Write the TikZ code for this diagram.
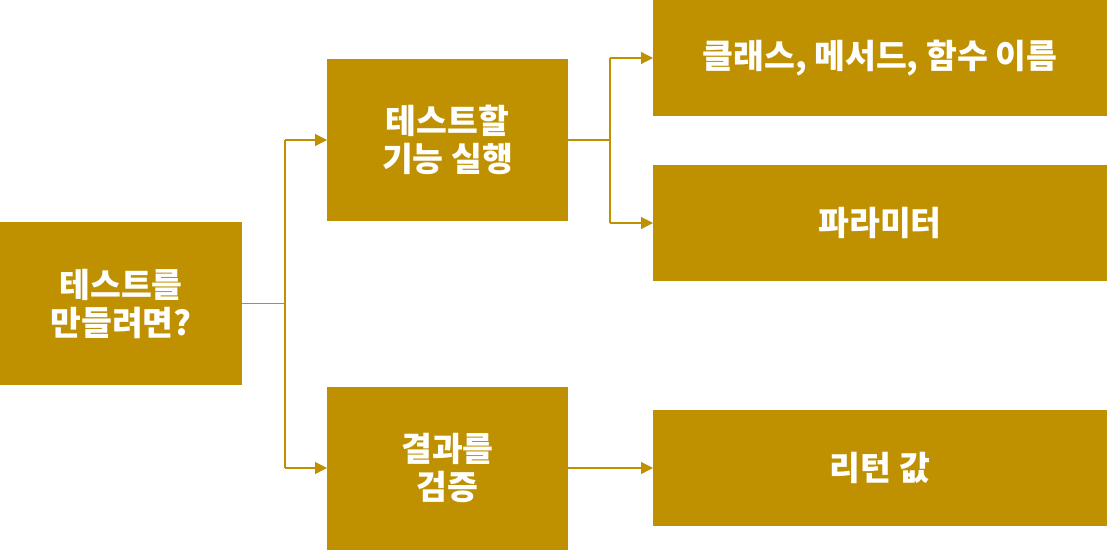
\documentclass[tikz,border=0pt]{standalone}
\usepackage{fontspec}
\setmainfont{Noto Sans CJK KR}
\usetikzlibrary{arrows.meta}
\definecolor{gold}{HTML}{BF9000}

\begin{document}
\begin{tikzpicture}[x=1pt,y=-1pt,
    box/.style={fill=gold,text=white,align=center,inner sep=0pt,outer sep=0pt,
      font=\fontsize{33.5}{38}\selectfont\bfseries},
    link/.style={color=gold,line width=1.2pt},
    >={Triangle[length=12pt,width=12pt]}]
    \useasboundingbox (0,0) rectangle (1107,550);
    \node[box,minimum width=242pt,minimum height=163pt] (root) at (121,303.5) {테스트를\\만들려면?};
    \node[box,minimum width=241pt,minimum height=162pt] (run) at (447.5,140) {테스트할\\기능 실행};
    \node[box,minimum width=241pt,minimum height=163pt] (check) at (447.5,468) {결과를\\검증};
    \node[box,minimum width=454pt,minimum height=116pt] (names) at (880,58) {클래스, 메서드, 함수 이름};
    \node[box,minimum width=454pt,minimum height=116pt] (params) at (880,223) {파라미터};
    \node[box,minimum width=454pt,minimum height=116pt] (ret) at (880,468) {리턴 값};
    \coordinate (J1) at (285,303.5);
    \coordinate (J2) at (610,140);
    \draw[link]
      (root.east) -- (J1)
      (J1 |- run.west) -- (J1 |- check.west)
      (run.east) -- (J2)
      (J2 |- names.west) -- (J2 |- params.west);
    \path[link,->]
      (J1 |- run.west) edge (run.west)
      (J1 |- check.west) edge (check.west)
      (J2 |- names.west) edge (names.west)
      (J2 |- params.west) edge (params.west)
      (check.east) edge (ret.west);
  \end{tikzpicture}
\end{document}
